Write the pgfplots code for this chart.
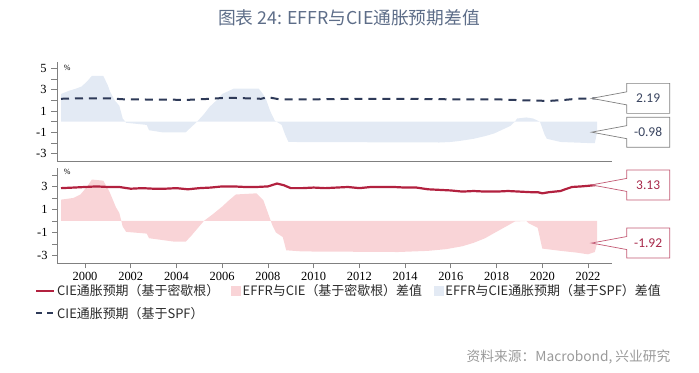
\documentclass[border=0pt]{standalone}
\usepackage{fontspec}
\setmainfont{Liberation Serif}
\newfontfamily\cjk{Noto Sans CJK SC}
\newfontfamily\calib{Carlito}
\usepackage{pgfplots}
\pgfplotsset{compat=1.18}
\usetikzlibrary{shapes.callouts}
\definecolor{cieRed}{HTML}{B2213F}
\definecolor{pinkA}{HTML}{F9D4D7}
\definecolor{blueA}{HTML}{E3EAF4}
\definecolor{spfNavy}{HTML}{2E3A58}
\definecolor{titleC}{HTML}{5D6D88}
\definecolor{axisC}{HTML}{808080}
\definecolor{srcC}{HTML}{9A9A9A}
\definecolor{boxRed}{HTML}{C35A74}
\definecolor{txtRed}{HTML}{A8284A}
\definecolor{txtNavy}{HTML}{3A4560}
\definecolor{legC}{HTML}{2A2A2A}

\pgfplotsset{
  panel/.style={
    scale only axis, width=555bp, xmin=1998.775, xmax=2023.05,
    axis x line*=bottom, axis y line*=left,
    axis line style={axisC, line width=0.8bp},
    tick style={axisC, line width=0.8bp},
    tick align=outside, major tick length=6bp,
    yticklabel style={font=\fontsize{12.5}{14}\selectfont, xshift=-1bp},
    clip=false,
  },
  redleg/.style={legend image code/.code={\draw[cieRed, line width=2.2bp] (0bp,0bp) -- (18bp,0bp);}},
  pinkleg/.style={legend image code/.code={\fill[pinkA] (0bp,-4.5bp) rectangle (9bp,4.5bp);}},
  blueleg/.style={legend image code/.code={\fill[blueA] (0bp,-4.5bp) rectangle (9bp,4.5bp);}},
  navyleg/.style={legend image code/.code={\draw[spfNavy, line width=2bp, dash pattern=on 6bp off 5bp] (0bp,0bp) -- (18bp,0bp);}},
}
\tikzset{
  callbox/.style={rectangle callout, fill=white, line width=0.7bp,
    font=\calib\fontsize{13.5}{15}\selectfont,
    minimum width=43bp, minimum height=30bp, inner sep=0pt,
    callout relative pointer={(-35bp,0bp)}, callout pointer width=13bp},
}
\begin{document}
\begin{tikzpicture}
\path[use as bounding box] (0bp,0bp) rectangle (699bp,373bp);

\node[font=\cjk\fontsize{17.8}{20}\selectfont, text=titleC] at (349bp,355bp) {图表 24: EFFR与CIE通胀预期差值};
\node[font=\cjk\fontsize{13.8}{15}\selectfont, text=srcC, anchor=east] at (674bp,16bp) {资料来源：Macrobond, 兴业研究};

% ---------- top panel (SPF) ----------
\begin{axis}[panel, at={(57bp,211.3bp)}, anchor=south west, height=99.7bp,
  ymin=-3.75, ymax=5.6, xtick=\empty,
  ytick={-3,...,5}, yticklabels={-3,,-1,,1,,3,,5}]
\addplot[draw=none, fill=blueA] coordinates {
(1998.95,2.6) (1999.3,2.9) (1999.6,3.1) (1999.85,3.3) (2000.1,3.8) (2000.3,4.3)
(2000.8,4.3) (2001.0,3.4) (2001.1,2.8) (2001.3,2.0) (2001.5,1.5) (2001.65,0.3)
(2001.8,-0.1) (2002.7,-0.3) (2002.8,-0.8) (2003.4,-1.0) (2004.4,-1.0) (2004.6,-0.6)
(2004.9,0.0) (2005.2,0.7) (2005.45,1.4) (2005.75,2.0) (2006.0,2.6) (2006.5,3.1)
(2007.6,3.1) (2007.75,2.7) (2007.9,2.2) (2008.1,1.0) (2008.3,0.1) (2008.6,-0.3)
(2008.75,-1.2) (2008.9,-1.9) (2015.5,-1.95) (2016.0,-1.9) (2016.4,-1.8) (2017.0,-1.6)
(2017.5,-1.35) (2017.9,-1.1) (2018.3,-0.7) (2018.6,-0.4) (2018.8,0.0) (2018.9,0.3)
(2019.3,0.4) (2019.6,0.3) (2019.9,0.0) (2020.1,-1.2) (2020.2,-1.6) (2020.8,-1.9)
(2022.0,-2.0) (2022.3,-2.0) (2022.4,-0.98)
} \closedcycle;
\addplot[spfNavy, line width=2bp, dash pattern=on 8bp off 6bp] coordinates {
(1998.95,2.15) (2000,2.2) (2001,2.2) (2001.7,2.1) (2004.5,2.05) (2005.5,2.15)
(2006.2,2.25) (2007,2.2) (2007.7,2.15) (2008.0,2.3) (2008.5,2.1) (2010,2.1)
(2012,2.15) (2014,2.15) (2016,2.1) (2018,2.1) (2019.3,2.0) (2020.3,1.95)
(2021,2.05) (2021.5,2.15) (2022.4,2.19)
};
\node[font=\fontsize{8}{9}\selectfont, anchor=west] at (rel axis cs:0.006,0.94) {\%};
\node[callbox, draw=axisC, text=txtNavy] at ([xshift=35bp]axis cs:2023.1,2.19) {2.19};
\node[callbox, draw=axisC, text=txtNavy] at ([xshift=35bp]axis cs:2023.1,-0.98) {-0.98};
\end{axis}

% ---------- bottom panel (Michigan) ----------
\begin{axis}[panel, at={(57bp,109.7bp)}, anchor=south west, height=95.3bp,
  ymin=-3.68, ymax=4.6,
  ytick={-3,...,4}, yticklabels={-3,,-1,,1,,3,},
  xtick={2000,2002,...,2022},
  xticklabels={2000,2002,2004,2006,2008,2010,2012,2014,2016,2018,2020,2022},
  xticklabel style={font=\fontsize{12.5}{14}\selectfont},
  major tick length=5bp,
  legend columns=3,
  legend cell align=left,
  legend style={at={(-0.04,-0.2)}, anchor=north west, draw=none, fill=none,
    font=\cjk\fontsize{13}{15}\selectfont, text=legC,
    /tikz/every even column/.append style={column sep=10bp},
    row sep=6bp, inner sep=0pt},
]
\addplot[draw=none, fill=pinkA, forget plot] coordinates {
(1998.95,1.85) (1999.5,2.0) (1999.8,2.3) (2000.1,3.0) (2000.3,3.6) (2000.8,3.5)
(2001.0,2.8) (2001.1,2.4) (2001.35,1.2) (2001.5,0.7) (2001.65,-0.5) (2001.8,-0.95)
(2002.7,-1.1) (2002.8,-1.5) (2003.9,-1.8) (2004.4,-1.8) (2004.6,-1.4) (2005.2,0.0)
(2005.6,0.6) (2006.0,1.25) (2006.3,1.8) (2006.6,2.3) (2007.5,2.4) (2007.8,1.8)
(2008.0,0.7) (2008.2,-0.4) (2008.35,-1.0) (2008.5,-1.2) (2008.65,-1.4) (2008.8,-2.55)
(2009.5,-2.65) (2013.7,-2.7) (2015.0,-2.6) (2015.8,-2.45) (2016.5,-2.2) (2017.0,-1.9)
(2017.5,-1.5) (2017.9,-1.05) (2018.4,-0.5) (2018.8,-0.05) (2019.3,0.0) (2019.4,-0.2)
(2019.8,-0.6) (2020.0,-2.4) (2020.8,-2.6) (2021.5,-2.75) (2022.0,-2.9) (2022.3,-2.7)
(2022.4,-1.92)
} \closedcycle;
\addplot[cieRed, line width=2.2bp, forget plot] coordinates {
(1998.95,2.85) (1999.5,2.9) (2000,2.95) (2000.5,3.0) (2001,2.95) (2001.5,2.95)
(2002,2.8) (2002.5,2.85) (2003,2.8) (2003.5,2.8) (2004,2.85) (2004.5,2.75)
(2005,2.85) (2005.5,2.9) (2006,3.0) (2006.5,3.0) (2007,2.95) (2007.5,2.95)
(2008,3.0) (2008.4,3.25) (2008.7,3.1) (2009,2.85) (2009.5,2.85) (2010,2.9)
(2010.5,2.85) (2011,2.9) (2011.5,2.95) (2012,2.85) (2012.5,2.95) (2013.5,2.95)
(2014,2.9) (2014.5,2.9) (2015,2.75) (2015.5,2.7) (2016,2.65) (2016.5,2.55)
(2017,2.6) (2017.5,2.55) (2018,2.55) (2018.5,2.6) (2019,2.55) (2019.5,2.5)
(2019.8,2.5) (2020.0,2.4) (2020.3,2.5) (2020.8,2.6) (2021.0,2.75) (2021.3,2.95)
(2021.7,3.0) (2022,3.05) (2022.4,3.13)
};
\addlegendimage{redleg}
\addlegendentry{CIE通胀预期（基于密歇根）}
\addlegendimage{pinkleg}
\addlegendentry{EFFR与CIE（基于密歇根）差值}
\addlegendimage{blueleg}
\addlegendentry{EFFR与CIE通胀预期（基于SPF）差值}
\addlegendimage{navyleg}
\addlegendentry{CIE通胀预期（基于SPF）}
\node[font=\fontsize{8}{9}\selectfont, anchor=west] at (rel axis cs:0.006,0.958) {\%};
\node[callbox, draw=boxRed, text=txtRed] at ([xshift=35bp]axis cs:2023.1,3.13) {3.13};
\node[callbox, draw=boxRed, text=txtRed] at ([xshift=35bp]axis cs:2023.1,-1.92) {-1.92};
\end{axis}
\end{tikzpicture}
\end{document}
